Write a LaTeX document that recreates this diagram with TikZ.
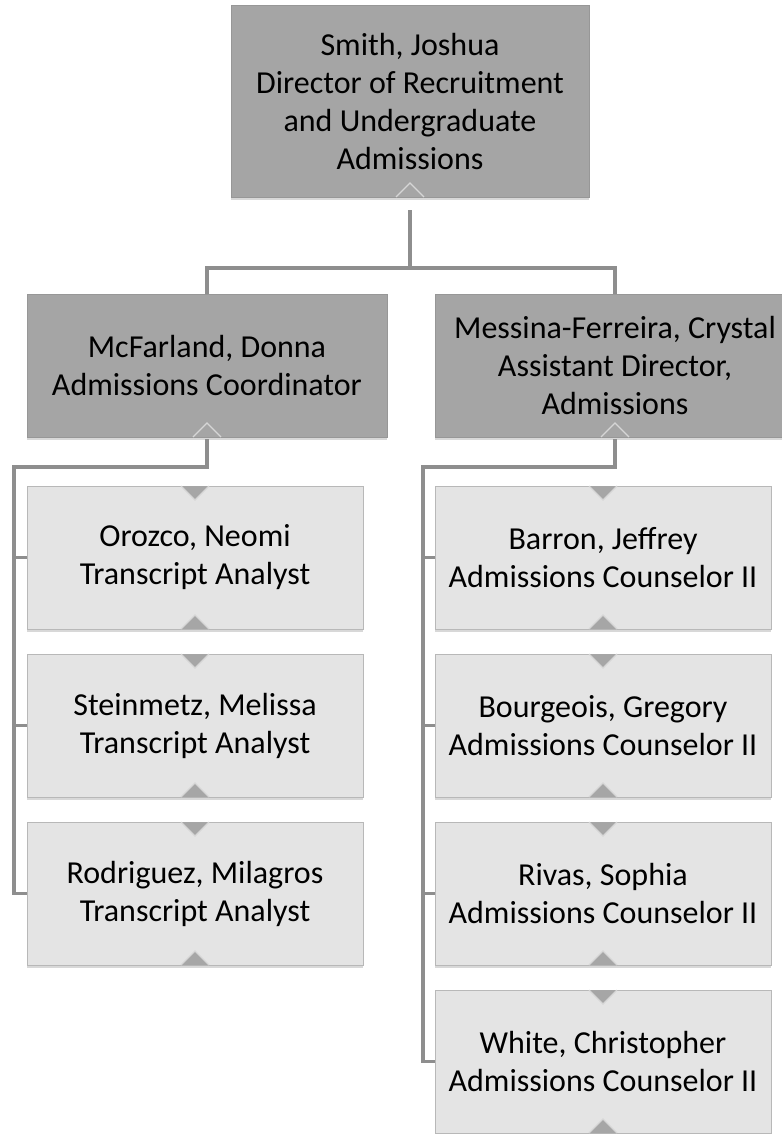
\documentclass[tikz,border=0pt]{standalone}
\usepackage{fontspec}
\setmainfont{Carlito}
\usetikzlibrary{shadows}
\definecolor{darkfill}{HTML}{A5A5A5}
\definecolor{darkline}{HTML}{979797}
\definecolor{lightfill}{HTML}{E4E4E4}
\definecolor{lightline}{HTML}{B8B8B8}
\definecolor{connline}{HTML}{8E8E8E}
\definecolor{tripfill}{HTML}{A6A6A6}
\definecolor{tripline}{HTML}{D6D6D6}
\begin{document}
\begin{tikzpicture}[x=1pt,y=-1pt,
  basebox/.style={line width=1pt, inner sep=0pt, outer sep=0pt, align=center,
    font=\fontsize{32}{38}\selectfont,
    drop shadow={shadow xshift=0pt, shadow yshift=-3pt, opacity=0.22, fill=black!70}},
  darkbox/.style={basebox, draw=darkline, fill=darkfill, minimum height=143pt},
  lightbox/.style={basebox, draw=lightline, fill=lightfill, minimum width=336pt, minimum height=143pt},
  conn/.style={draw=connline, line width=3.6pt},
  caret/.style={fill=tripfill, draw=tripline, line width=1.2pt, line join=miter}]
\useasboundingbox (0,0) rectangle (781,1134);

% boxes
\node[darkbox, minimum width=358pt, minimum height=191pt] (top) at (410,101.5)
  {Smith, Joshua\\Director of Recruitment\\and Undergraduate\\Admissions};
\node[darkbox, minimum width=360pt] (l2a) at (207,365.5)
  {McFarland, Donna\\Admissions Coordinator};
\node[darkbox, minimum width=360pt] (l2b) at (615,365.5)
  {Messina-Ferreira, Crystal\\Assistant Director,\\Admissions};

\node[lightbox] (c1) at (195,557.5) {Orozco, Neomi\\Transcript Analyst};
\node[lightbox] (c2) at (195,725.5) {Steinmetz, Melissa\\Transcript Analyst};
\node[lightbox] (c3) at (195,893.5) {Rodriguez, Milagros\\Transcript Analyst};

\node[lightbox] (d1) at (603,557.5) {Barron, Jeffrey\\Admissions Counselor II};
\node[lightbox] (d2) at (603,725.5) {Bourgeois, Gregory\\Admissions Counselor II};
\node[lightbox] (d3) at (603,893.5) {Rivas, Sophia\\Admissions Counselor II};
\node[lightbox] (d4) at (603,1061.5) {White, Christopher\\Admissions Counselor II};

% connectors
\coordinate (bus) at (410,268);
\coordinate (sa) at (14,467);
\coordinate (sb) at (423,467);
\draw[conn] ([yshift=-13pt]top.south) -- (bus);
\draw[conn] (l2a.north) |- (bus) -| (l2b.north);
\draw[conn] ([yshift=-2pt]l2a.south) |- (sa) |- (c3.west);
\draw[conn] (sa |- c1.west) -- (c1.west);
\draw[conn] (sa |- c2.west) -- (c2.west);
\draw[conn] ([yshift=-2pt]l2b.south) |- (sb) |- (d4.west);
\draw[conn] (sb |- d1.west) -- (d1.west);
\draw[conn] (sb |- d2.west) -- (d2.west);
\draw[conn] (sb |- d3.west) -- (d3.west);

% carets
\draw[caret, fill=darkfill] ([xshift=-14pt]top.south) -- ([yshift=14pt]top.south) -- ([xshift=14pt]top.south);
\draw[caret, fill=darkfill] ([xshift=-14pt]l2a.south) -- ([yshift=14pt]l2a.south) -- ([xshift=14pt]l2a.south);
\draw[caret, fill=darkfill] ([xshift=-14pt]l2b.south) -- ([yshift=14pt]l2b.south) -- ([xshift=14pt]l2b.south);
\foreach \n in {c1,c2,c3,d1,d2,d3,d4}{
  \draw[caret] ([xshift=-14pt]\n.south) -- ([yshift=14pt]\n.south) -- ([xshift=14pt]\n.south);
  \draw[caret] ([xshift=-14pt]\n.north) -- ([yshift=-14pt]\n.north) -- ([xshift=14pt]\n.north);
}
\end{tikzpicture}
\end{document}
